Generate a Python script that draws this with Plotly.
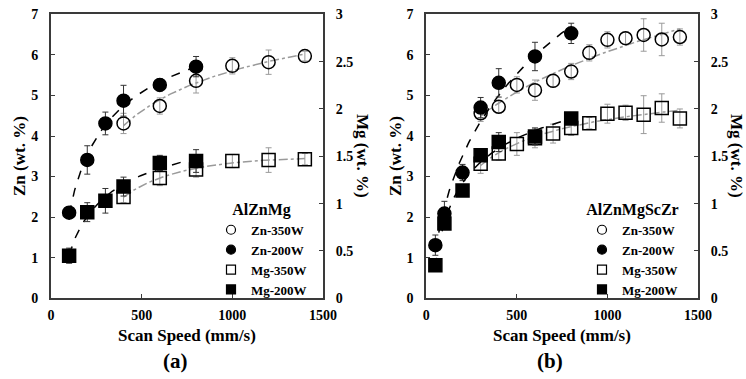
import numpy as np
import plotly.graph_objects as go

# ---------------- Data: panel (a) AlZnMg ----------------
a_zn350_x = [400, 600, 800, 1000, 1200, 1400]
a_zn350_y = [4.31, 4.74, 5.36, 5.73, 5.82, 5.97]
a_zn350_e = [0.25, 0.2, 0.3, 0.2, 0.3, 0.12]

a_zn200_x = [100, 200, 300, 400, 600, 800]
a_zn200_y = [2.11, 3.41, 4.31, 4.87, 5.26, 5.71]
a_zn200_e = [0.1, 0.35, 0.28, 0.38, 0.15, 0.25]

a_mg350_x = [400, 600, 800, 1000, 1200, 1400]
a_mg350_y = [1.07, 1.27, 1.36, 1.45, 1.46, 1.47]
a_mg350_e = [0.06, 0.08, 0.08, 0.07, 0.13, 0.06]

a_mg200_x = [100, 200, 300, 400, 600, 800]
a_mg200_y = [0.45, 0.91, 1.03, 1.18, 1.43, 1.45]
a_mg200_e = [0.08, 0.1, 0.13, 0.1, 0.08, 0.12]

# ---------------- Data: panel (b) AlZnMgScZr ----------------
b_zn350_x = [300, 400, 500, 600, 700, 800, 900, 1000, 1100, 1200, 1300, 1400]
b_zn350_y = [4.56, 4.72, 5.26, 5.13, 5.36, 5.59, 6.05, 6.37, 6.41, 6.49, 6.38, 6.44]
b_zn350_e = [0.2, 0.15, 0.2, 0.25, 0.15, 0.2, 0.2, 0.2, 0.15, 0.4, 0.4, 0.2]

b_zn200_x = [50, 100, 200, 300, 400, 600, 800]
b_zn200_y = [1.31, 2.09, 3.10, 4.70, 5.31, 5.96, 6.53]
b_zn200_e = [0.25, 0.3, 0.2, 0.25, 0.35, 0.35, 0.25]

b_mg350_x = [300, 400, 500, 600, 700, 800, 900, 1000, 1100, 1200, 1300, 1400]
b_mg350_y = [1.42, 1.53, 1.63, 1.69, 1.74, 1.80, 1.85, 1.95, 1.96, 1.94, 2.01, 1.90]
b_mg350_e = [0.1, 0.07, 0.12, 0.1, 0.1, 0.08, 0.06, 0.1, 0.08, 0.2, 0.15, 0.1]

b_mg200_x = [50, 100, 200, 300, 400, 600, 800]
b_mg200_y = [0.35, 0.79, 1.14, 1.51, 1.65, 1.71, 1.90]
b_mg200_e = [0.05, 0.06, 0.06, 0.06, 0.1, 0.09, 0.06]

legend_names = ["Zn-350W", "Zn-200W", "Mg-350W", "Mg-200W"]
panel_titles = ["AlZnMg", "AlZnMgScZr"]
panel_labels = ["(a)", "(b)"]
x_ticks = [0, 500, 1000, 1500]

FONT = "Liberation Serif"
AX = "#3a3a3a"
GRAY = "#9a9a9a"

fig = go.Figure()


def fit_curve(xs, ys):
    lx = np.log(np.array(xs, dtype=float))
    c = np.polyfit(lx, np.array(ys, dtype=float), 2)
    xx = np.linspace(min(xs), max(xs), 120)
    return xx, np.polyval(c, np.log(xx))


def add_series(xs, ys, es, xa, ya, symbol, dash, lcolor, ecolor):
    fx, fy = fit_curve(xs, ys)
    fig.add_trace(go.Scatter(x=fx, y=fy, mode="lines", xaxis=xa, yaxis=ya,
                             line=dict(color=lcolor, width=1.5, dash=dash),
                             showlegend=False, hoverinfo="skip"))
    fig.add_trace(go.Scatter(
        x=xs, y=ys, mode="markers", xaxis=xa, yaxis=ya, showlegend=False,
        error_y=dict(type="data", array=es, visible=True, color=ecolor,
                     thickness=1, width=3),
        marker=dict(symbol=symbol, size=13, color="black",
                    line=dict(color="black", width=1.5))))


panels = [
    ("x", "y", "y2",
     (a_zn350_x, a_zn350_y, a_zn350_e), (a_zn200_x, a_zn200_y, a_zn200_e),
     (a_mg350_x, a_mg350_y, a_mg350_e), (a_mg200_x, a_mg200_y, a_mg200_e)),
    ("x2", "y3", "y4",
     (b_zn350_x, b_zn350_y, b_zn350_e), (b_zn200_x, b_zn200_y, b_zn200_e),
     (b_mg350_x, b_mg350_y, b_mg350_e), (b_mg200_x, b_mg200_y, b_mg200_e)),
]

for i, (xa, yz, ym, zn350, zn200, mg350, mg200) in enumerate(panels):
    add_series(*zn350, xa, yz, "circle-open", "dashdot", GRAY, GRAY)
    add_series(*mg350, xa, ym, "square-open", "dashdot", GRAY, GRAY)
    add_series(*zn200, xa, yz, "circle", "dash", "black", "#333333")
    add_series(*mg200, xa, ym, "square", "dash", "black", "#333333")
    lg = "legend" if i == 0 else "legend2"
    syms = ["circle-open", "circle", "square-open", "square"]
    for nm, sy in zip(legend_names, syms):
        fig.add_trace(go.Scatter(
            x=[None], y=[None], mode="markers", xaxis=xa, yaxis=yz, name=nm,
            legend=lg, showlegend=True,
            marker=dict(symbol=sy, size=9, color="black",
                        line=dict(color="black", width=1.2))))

xdoms = [[51 / 746, 323 / 746], [426.3 / 746, 698 / 746]]
ydom = [1 - 298.3 / 379, 1 - 14.3 / 379]

tickf = dict(family=FONT, size=14, color="black", weight="bold")
common = dict(showline=True, linecolor=AX, linewidth=1.8, ticks="inside",
              ticklen=4, tickcolor=AX, tickwidth=1, showgrid=False,
              zeroline=False, tickfont=tickf, automargin=False)

layout = dict(width=746, height=379,
              margin=dict(l=0, r=0, t=0, b=0, autoexpand=False),
              paper_bgcolor="white", plot_bgcolor="white", showlegend=True)

for i, (xa, yz, ym) in enumerate([("xaxis", "yaxis", "yaxis2"),
                                  ("xaxis2", "yaxis3", "yaxis4")]):
    yzn = "y" if i == 0 else "y3"
    xn = "x" if i == 0 else "x2"
    layout[xa] = dict(domain=xdoms[i], range=[0, 1500], tickvals=x_ticks,
                      anchor=yzn, mirror=True, ticklabelstandoff=3, **common)
    layout[yz] = dict(domain=ydom, range=[0, 7], dtick=1, anchor=xn,
                      ticklabelstandoff=8, **common)
    layout[ym] = dict(range=[0, 3], dtick=0.5, overlaying=yzn, side="right",
                      anchor=xn, ticklabelstandoff=8, **common)

legpos = [(312 / 746, 1 - 194 / 379), (683 / 746, 1 - 194 / 379)]
for i, key in enumerate(["legend", "legend2"]):
    layout[key] = dict(x=legpos[i][0], y=legpos[i][1], xanchor="right",
                       yanchor="top", bgcolor="rgba(0,0,0,0)",
                       font=dict(family=FONT, size=13, color="black", weight="bold"),
                       title=dict(text=panel_titles[i], side="top center",
                                  font=dict(family=FONT, size=16, color="black",
                                            weight="bold")),
                       tracegroupgap=0, itemwidth=30)

fig.update_layout(**layout)

tf = dict(family=FONT, size=17, color="black", weight="bold")
ann = []
centers = [187, 562]
ytitle_x = [[19, 363], [395, 737]]
for i in range(2):
    ann.append(dict(text="Scan Speed (mm/s)", x=centers[i] / 746, y=1 - 335 / 379,
                    xref="paper", yref="paper", showarrow=False, font=tf,
                    xanchor="center", yanchor="middle"))
    ann.append(dict(text=panel_labels[i], x=(centers[i] - 12) / 746, y=1 - 361 / 379,
                    xref="paper", yref="paper", showarrow=False,
                    xanchor="center", yanchor="middle",
                    font=dict(family=FONT, size=21, color="black", weight="bold")))
    ann.append(dict(text="Zn (wt. %)", x=ytitle_x[i][0] / 746, y=1 - 156 / 379,
                    xref="paper", yref="paper", showarrow=False, textangle=-90,
                    xanchor="center", yanchor="middle", font=tf))
    ann.append(dict(text="Mg (wt. %)", x=ytitle_x[i][1] / 746, y=1 - 156 / 379,
                    xref="paper", yref="paper", showarrow=False, textangle=90,
                    xanchor="center", yanchor="middle", font=tf))
fig.update_layout(annotations=ann)

fig.write_html("out.html")
